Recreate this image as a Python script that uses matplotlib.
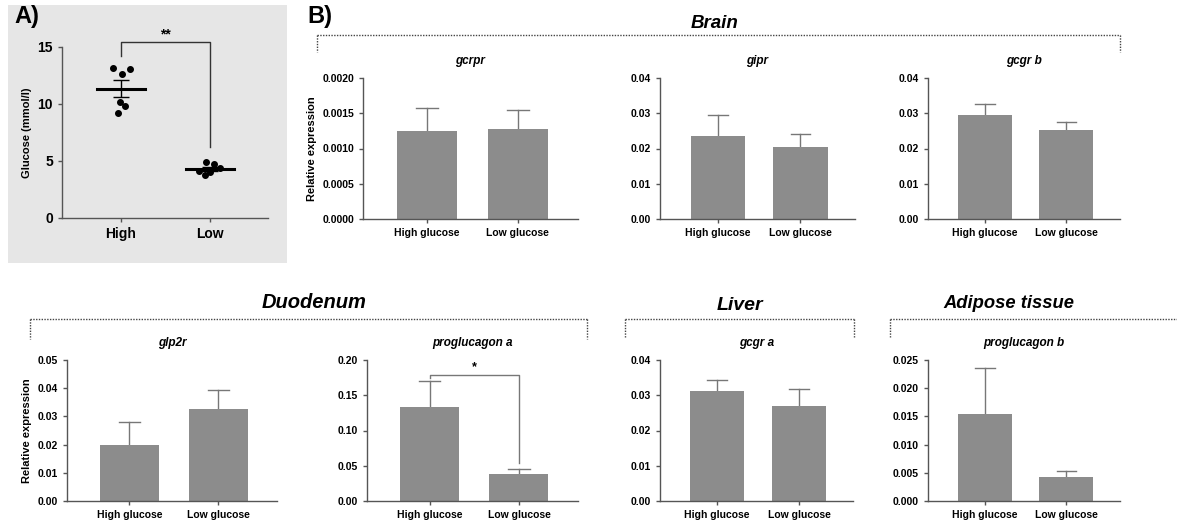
import numpy as np
import matplotlib
matplotlib.use("Agg")
import matplotlib.pyplot as plt
from matplotlib.patches import Rectangle
from matplotlib.lines import Line2D

plt.rcParams['font.family'] = ['Liberation Sans', 'DejaVu Sans']
plt.rcParams['font.weight'] = 'bold'

W, H = 1177, 527

# Panel A data (glucose, mmol/l)
high_glucose = [13.2, 13.1, 12.6, 10.2, 9.8, 9.2]
low_glucose = [4.9, 4.7, 4.4, 4.1, 4.0, 3.8]
high_jitter = [-0.09, 0.10, 0.01, -0.01, 0.05, -0.03]
low_jitter = [-0.05, 0.04, 0.11, -0.12, 0.0, -0.06]
groups_a = ["High", "Low"]

# Panel B data: gene, mean (high, low), upper SEM end (high, low), y max, y step
groups_b = ["High glucose", "Low glucose"]
genes = ["gcrpr", "gipr", "gcgr b", "glp2r", "proglucagon a", "gcgr a", "proglucagon b"]
means = [[0.00125, 0.00127], [0.0236, 0.0203], [0.0295, 0.0252],
         [0.0198, 0.0325], [0.133, 0.038], [0.0312, 0.0270], [0.0155, 0.0042]]
err_tops = [[0.00158, 0.00154], [0.0295, 0.0241], [0.0325, 0.0275],
            [0.0280, 0.0395], [0.170, 0.045], [0.0342, 0.0317], [0.0235, 0.0054]]
ymaxs = [0.002, 0.04, 0.04, 0.05, 0.20, 0.04, 0.025]
ysteps = [0.0005, 0.01, 0.01, 0.01, 0.05, 0.01, 0.005]
yfmts = ["%.4f", "%.2f", "%.2f", "%.2f", "%.2f", "%.2f", "%.3f"]

# axes pixel boxes (left, top, right, bottom)
boxes = [(363, 78, 578, 219), (660, 78, 855, 219), (928, 78, 1120, 219),
         (67, 360, 277, 501), (367, 360, 578, 501), (660, 360, 853, 501),
         (928, 360, 1120, 501)]

fig = plt.figure(figsize=(W / 100, H / 100), dpi=100)


def px_axes(l, t, r, b):
    return fig.add_axes([l / W, 1 - b / H, (r - l) / W, (b - t) / H])


def style(ax):
    for s in ["top", "right"]:
        ax.spines[s].set_visible(False)
    for s in ["left", "bottom"]:
        ax.spines[s].set_color("#555555")
        ax.spines[s].set_linewidth(1.0)
    ax.tick_params(colors="#555555", labelcolor="black", labelsize=7.5, length=3, width=1)
    for lab in ax.get_xticklabels() + ax.get_yticklabels():
        lab.set_fontweight("bold")


# grey background for panel A
fig.add_artist(Rectangle((8 / W, 1 - 263 / H), (287 - 8) / W, (263 - 5) / H,
                         transform=fig.transFigure, facecolor="#e6e6e6", edgecolor="none", zorder=0))

axA = px_axes(62, 47, 268, 218)
axA.set_facecolor("none")
axA.set_xlim(-0.66, 1.65)
axA.set_ylim(0, 15)
for i, (vals, jit) in enumerate([(high_glucose, high_jitter), (low_glucose, low_jitter)]):
    vals = np.array(vals)
    axA.scatter(i + np.array(jit), vals, s=16, color="black", zorder=3)
    m = vals.mean()
    sem = vals.std(ddof=1) / np.sqrt(len(vals))
    axA.plot([i - 0.27, i + 0.27], [m, m], color="black", lw=2.2)
    axA.errorbar(i, m, yerr=sem, color="black", lw=1, capsize=6, capthick=1)
axA.set_xticks([0, 1])
axA.set_xticklabels(groups_a, fontsize=10, fontweight="bold")
axA.set_yticks([0, 5, 10, 15])
axA.set_ylabel("Glucose (mmol/l)", fontsize=8, fontweight="bold")
style(axA)
axA.tick_params(axis="x", labelsize=10)
axA.tick_params(axis="y", labelsize=10)
axA.plot([0, 0, 1, 1], [14.2, 15.4, 15.4, 6.2], color="#333333", lw=1, clip_on=False)
axA.text(0.5, 15.45, "**", ha="center", va="bottom", fontsize=10, fontweight="bold")

fig.text(14 / W, 1 - 17 / H, "A)", fontsize=17, fontweight="bold", va="center")
fig.text(307 / W, 1 - 17 / H, "B)", fontsize=17, fontweight="bold", va="center")

for k, gene in enumerate(genes):
    ax = px_axes(*boxes[k])
    ax.bar([0, 1], means[k], width=0.66, color="#8c8c8c", zorder=2)
    for i in range(2):
        ax.plot([i, i], [means[k][i], err_tops[k][i]], color="#777777", lw=1, zorder=1)
        ax.plot([i - 0.12, i + 0.12], [err_tops[k][i]] * 2, color="#777777", lw=1)
    ax.set_xlim(-0.7, 1.66)
    ax.set_ylim(0, ymaxs[k])
    ticks = np.arange(0, ymaxs[k] + ysteps[k] / 2, ysteps[k])
    ax.set_yticks(ticks)
    ax.set_yticklabels([yfmts[k] % t for t in ticks])
    ax.set_xticks([0, 1])
    ax.set_xticklabels(groups_b)
    style(ax)
    ax.set_title(gene, fontsize=8.5, fontweight="bold", style="italic", pad=10)
    if k in (0, 3):
        ax.set_ylabel("Relative expression", fontsize=8, fontweight="bold")

# significance bracket on proglucagon a
ax = fig.axes[5]
ax.plot([0, 0, 1, 1], [0.175, 0.179, 0.179, 0.054], color="#777777", lw=1, clip_on=False)
ax.text(0.5, 0.181, "*", ha="center", va="bottom", fontsize=9, fontweight="bold")


def bracket(x0, x1, y, drop, left=True, right=True):
    kw = dict(transform=fig.transFigure, color="#444444", lw=1, ls=(0, (1, 1)))
    fig.add_artist(Line2D([x0 / W, x1 / W], [1 - y / H] * 2, **kw))
    if left:
        fig.add_artist(Line2D([x0 / W] * 2, [1 - y / H, 1 - drop / H], **kw))
    if right:
        fig.add_artist(Line2D([x1 / W] * 2, [1 - y / H, 1 - drop / H], **kw))


bracket(317, 1120, 35, 52)
bracket(30, 587, 319, 339)
bracket(625, 854, 319, 337)
bracket(890, 1177, 319, 337, right=False)

title_kw = dict(fontweight="bold", style="italic", ha="center", va="center")
fig.text(715 / W, 1 - 23 / H, "Brain", fontsize=13.5, **title_kw)
fig.text(314 / W, 1 - 303 / H, "Duodenum", fontsize=14.5, **title_kw)
fig.text(740 / W, 1 - 305 / H, "Liver", fontsize=14, **title_kw)
fig.text(1009 / W, 1 - 304 / H, "Adipose tissue", fontsize=13.2, **title_kw)

fig.savefig("out.png", dpi=100)
